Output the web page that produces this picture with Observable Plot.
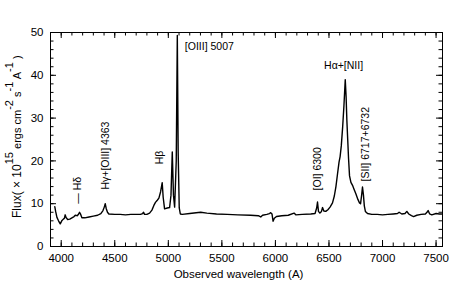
<!DOCTYPE html>
<html>
<head>
<meta charset="utf-8">
<script src="https://cdn.jsdelivr.net/npm/d3@7"></script>
<script src="https://cdn.jsdelivr.net/npm/@observablehq/plot@0.6"></script>
<style>
  html, body { margin: 0; padding: 0; background: #fff; }
  #chart { width: 458px; height: 281px; }
</style>
</head>
<body>
<div id="chart"></div>
<script>
// Spectrum (observed wavelength in Å, flux ×10^15)
const wavelength = [3940,3948,3960,3975,3991,4005,4020,4030,4037,4045,4060,4080,4100,4120,4131,4150,4163,4171,4182,4193,4220,4260,4300,4340,4370,4390,4402,4411,4420,4432,4445,4500,4550,4600,4650,4700,4740,4760,4769,4778,4800,4825,4847,4865,4880,4897,4912,4928,4943,4952,4965,4990,5012,5025,5037,5048,5059,5074,5084,5092,5102,5112,5130,5200,5260,5302,5360,5450,5550,5650,5769,5840,5863,5880,5920,5945,5956,5968,5978,5990,6010,6060,6120,6174,6190,6250,6330,6370,6385,6393,6402,6415,6430,6440,6452,6470,6490,6510,6533,6550,6565,6580,6594,6604,6615,6628,6640,6652,6660,6667,6675,6683,6692,6705,6720,6735,6751,6770,6785,6795,6805,6813,6822,6830,6840,6860,6900,6950,7000,7050,7100,7140,7155,7180,7210,7227,7245,7270,7290,7320,7360,7400,7415,7426,7440,7460,7500,7530,7552];
const flux = [9.3,8.2,6.8,6.0,5.3,6.0,6.4,6.6,7.4,6.8,6.3,6.4,6.7,7.0,7.3,7.2,7.6,8.0,7.5,6.7,6.7,6.9,7.1,7.3,7.7,8.4,9.2,10.0,8.9,8.0,7.6,7.5,7.5,7.4,7.5,7.5,7.5,7.7,8.0,7.5,7.5,7.8,8.5,9.6,10.3,10.8,11.3,12.8,14.9,11.5,8.8,9.0,9.1,12.0,22.1,12.0,9.2,20.0,49.3,22.0,9.0,7.6,7.5,7.7,7.9,8.0,7.8,7.6,7.5,7.4,7.3,7.2,6.9,7.3,7.5,7.7,7.9,7.6,5.9,6.6,7.0,7.2,7.3,7.8,7.4,7.5,7.6,7.7,9.0,10.4,8.2,7.8,8.2,9.1,8.3,8.2,8.6,9.2,10.2,11.8,14.0,17.0,19.7,21.0,23.5,28.0,33.0,39.0,35.0,29.5,25.0,20.5,16.5,15.0,14.3,13.3,12.3,11.0,10.2,10.0,12.0,13.9,12.0,9.5,8.2,7.7,7.5,7.5,7.4,7.5,7.6,7.7,8.0,7.6,7.7,8.2,7.6,7.2,7.0,7.3,7.5,7.6,8.0,8.4,7.6,7.4,7.7,7.6,7.6];

// Axis ticks
const xMajorTicks = [4000,4500,5000,5500,6000,6500,7000,7500];
const xMinorTicks = d3.range(3900, 7561, 100);
const yMajorTicks = [0,10,20,30,40,50];
const yMinorTicks = d3.range(0, 51, 2);

// Line annotations
const vLabelText = ["— Hδ", "Hγ+[OIII] 4363", "Hβ", "[OI] 6300", "[SII] 6717+6732"];
const vLabelX = [4155, 4417, 4917, 6395, 6838];
const vLabelY = [10.0, 13.3, 19.2, 13.1, 15.2];
const hLabelText = ["[OIII] 5007", "Hα+[NII]"];
const hLabelX = [5154, 6454];
const hLabelY = [45.9, 41.5];

const xTitle = "Observed wavelength (A)";
// y title pieces: [text, baseline shift, font size]
const yTitleParts = [["Flux( × 10", 0, 12], ["15", -8, 11], [" ergs cm", 8, 11], ["-2", -8, 11], [" s", 8, 11], ["-1", -8, 11], [" A", 8, 11], ["-1", -8, 11], [" )", 8, 11]];

const spectrum = wavelength.map((w, i) => ({w, f: flux[i]}));
const vLabels = vLabelText.map((t, i) => ({t, x: vLabelX[i], y: vLabelY[i]}));
const hLabels = hLabelText.map((t, i) => ({t, x: hLabelX[i], y: hLabelY[i]}));

const W = 458, H = 281, mL = 50, mR = 16, mT = 32, mB = 35;
const plotH = H - mT - mB, plotW = W - mL - mR;
const majLen = 6, minLen = 3.5;

const chart = Plot.plot({
  width: W, height: H,
  marginLeft: mL, marginRight: mR, marginTop: mT, marginBottom: mB,
  style: {fontFamily: "'Liberation Sans', Arial, sans-serif", background: "#fff", color: "#000"},
  x: {domain: [3900, 7560]},
  y: {domain: [0, 50]},
  marks: [
    Plot.frame({stroke: "#000", strokeWidth: 1}),
    Plot.tickX(xMinorTicks, {x: d => d, insetTop: plotH - minLen, stroke: "#000"}),
    Plot.tickX(xMajorTicks, {x: d => d, insetTop: plotH - majLen, stroke: "#000"}),
    Plot.tickX(xMinorTicks, {x: d => d, insetBottom: plotH - minLen, stroke: "#000"}),
    Plot.tickX(xMajorTicks, {x: d => d, insetBottom: plotH - majLen, stroke: "#000"}),
    Plot.tickY(yMinorTicks, {y: d => d, insetRight: plotW - minLen, stroke: "#000"}),
    Plot.tickY(yMajorTicks, {y: d => d, insetRight: plotW - majLen, stroke: "#000"}),
    Plot.tickY(yMinorTicks, {y: d => d, insetLeft: plotW - minLen, stroke: "#000"}),
    Plot.tickY(yMajorTicks, {y: d => d, insetLeft: plotW - majLen, stroke: "#000"}),
    Plot.axisX({ticks: xMajorTicks, tickSize: 0, tickPadding: 7, fontSize: 11.5, label: null, tickFormat: d => String(d)}),
    Plot.axisY({ticks: yMajorTicks, tickSize: 0, tickPadding: 7, fontSize: 11.5, label: null}),
    Plot.line(spectrum, {x: "w", y: "f", stroke: "#000", strokeWidth: 1.4, strokeLinejoin: "round"}),
    Plot.text(vLabels, {x: "x", y: "y", text: "t", rotate: -90, textAnchor: "start", fontSize: 10.5, fill: "#000"}),
    Plot.text(hLabels, {x: "x", y: "y", text: "t", textAnchor: "start", lineAnchor: "bottom", fontSize: 10.5, fill: "#000"}),
    Plot.text([xTitle], {text: d => d, frameAnchor: "bottom", dy: 31, dx: -8, lineAnchor: "bottom", fontSize: 11.5, fill: "#000"})
  ]
});

document.getElementById("chart").appendChild(chart);

// Y axis title with superscripts
const yt = d3.select(chart).append("text")
  .attr("transform", "translate(20.5,218) rotate(-90)")
  .attr("text-anchor", "start")
  .attr("font-family", "'Liberation Sans', Arial, sans-serif")
  .attr("fill", "#000");
yTitleParts.forEach(([t, dy, fs]) => yt.append("tspan").attr("dy", dy).attr("font-size", fs).text(t));
</script>
</body>
</html>
